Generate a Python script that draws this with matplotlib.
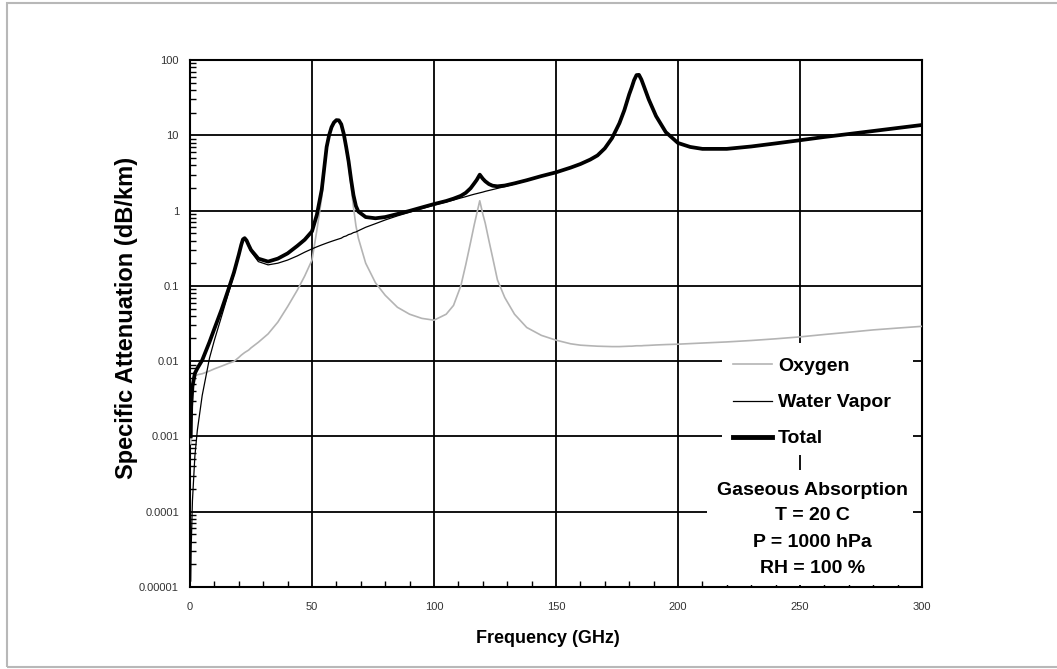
import numpy as np
import matplotlib
matplotlib.use("Agg")
import matplotlib.pyplot as plt
from matplotlib.patches import Rectangle
from matplotlib.ticker import FixedLocator, FixedFormatter, MultipleLocator, LogLocator, NullFormatter

plt.rcParams['font.family'] = ['Liberation Sans', 'DejaVu Sans']

# frequency grid (GHz)
freq = [0.3, 0.5, 1, 2, 3, 5, 8, 10, 13, 16, 18,
        20, 21, 21.7, 22.4, 23.2, 24, 25,
        28, 32, 36, 40, 44, 47, 50, 52, 54,
        56, 57, 58, 59, 60, 61, 62, 63, 64, 65, 66, 67, 68, 69,
        72, 76, 80, 85, 90, 95,
        100, 105, 108, 111, 113, 115, 116.5, 117.5, 118.75, 120, 121, 122.5, 124, 126, 129, 133, 138, 144, 150,
        156, 160, 164, 167, 170, 173, 176, 178, 180, 181, 182, 183, 184, 185, 186,
        188, 191, 195, 200, 205, 210, 220, 230, 240, 250,
        260, 270, 280, 290, 300]

oxygen = [0.0008, 0.002, 0.0045, 0.0063, 0.0066, 0.0068, 0.0074, 0.0079, 0.0086, 0.0094, 0.0099,
          0.0112, 0.012, 0.0125, 0.013, 0.0135, 0.014, 0.015,
          0.0178, 0.023, 0.033, 0.053, 0.088, 0.135, 0.22, 0.55, 1.5,
          6.6, 9.6, 12.4, 14.4, 15.5, 15.4, 13.6, 10.0, 6.5, 4.0, 2.1, 1.1, 0.63, 0.43,
          0.2, 0.11, 0.075, 0.052, 0.042, 0.037,
          0.035, 0.042, 0.055, 0.1, 0.19, 0.38, 0.65, 0.9, 1.35, 0.9, 0.68, 0.4, 0.24, 0.12, 0.07, 0.042, 0.028, 0.022, 0.019,
          0.017, 0.0163, 0.016, 0.0158, 0.0157, 0.0156, 0.0156, 0.0157, 0.0158, 0.0158, 0.0159, 0.016, 0.016, 0.016, 0.0161,
          0.0162, 0.0164, 0.0166, 0.0168, 0.0171, 0.0174, 0.018, 0.0188, 0.0198, 0.021,
          0.0226, 0.0242, 0.026, 0.0275, 0.029]

water_vapor = [1.2e-5, 3.5e-5, 0.00014, 0.00055, 0.0012, 0.0035, 0.011, 0.019, 0.04, 0.085, 0.14,
               0.25, 0.335, 0.40, 0.415, 0.385, 0.335, 0.285,
               0.21, 0.19, 0.2, 0.22, 0.25, 0.28, 0.31, 0.33, 0.35,
               0.37, 0.38, 0.39, 0.40, 0.41, 0.42, 0.43, 0.45, 0.46, 0.48, 0.49, 0.51, 0.52, 0.54,
               0.6, 0.67, 0.75, 0.85, 0.95, 1.06,
               1.18, 1.3, 1.38, 1.47, 1.53, 1.6, 1.65, 1.68, 1.72, 1.76, 1.8, 1.85, 1.9, 1.97, 2.08, 2.25, 2.5, 2.85, 3.2,
               3.7, 4.13, 4.73, 5.38, 6.68, 9.18, 14.5, 21.5, 35, 43, 54, 63, 63.5, 55, 45,
               30, 18, 11, 7.9, 7.0, 6.6, 6.6, 7.1, 7.8, 8.6,
               9.5, 10.4, 11.4, 12.5, 13.6]

total = [0.001, 0.0025, 0.0046, 0.0069, 0.008, 0.0103, 0.018, 0.027, 0.049, 0.095, 0.15,
         0.26, 0.35, 0.415, 0.43, 0.40, 0.35, 0.3,
         0.23, 0.21, 0.23, 0.27, 0.34, 0.41, 0.53, 0.88, 1.9,
         7.0, 10.0, 12.8, 14.8, 15.9, 15.8, 14.0, 10.5, 7.0, 4.5, 2.6, 1.6, 1.15, 0.97,
         0.82, 0.79, 0.82, 0.9, 0.99, 1.1,
         1.22, 1.34, 1.44, 1.57, 1.72, 1.98, 2.3, 2.55, 3.0, 2.65, 2.45, 2.25, 2.14, 2.1, 2.15, 2.3, 2.53, 2.87, 3.22,
         3.72, 4.15, 4.75, 5.4, 6.7, 9.2, 14.5, 21.5, 35, 43, 54, 63, 63.5, 55, 45,
         30, 18, 11, 7.9, 7.0, 6.6, 6.6, 7.1, 7.8, 8.6,
         9.5, 10.4, 11.4, 12.5, 13.7]

y_ticks = [1e-5, 1e-4, 1e-3, 1e-2, 1e-1, 1, 10, 100]
y_labels = ['0.00001', '0.0001', '0.001', '0.01', '0.1', '1', '10', '100']
x_ticks = [0, 50, 100, 150, 200, 250, 300]

fig = plt.figure(figsize=(10.57, 6.69), dpi=100)
ax = fig.add_axes([190/1057, (669-587)/669, 732/1057, 527/669])

ax.plot(freq, oxygen, color='#b4b4b4', lw=1.2, zorder=3, label='Oxygen')
ax.plot(freq, water_vapor, color='black', lw=0.9, zorder=3, label='Water Vapor')
ax.plot(freq, total, color='black', lw=2.7, zorder=4, label='Total')

ax.set_yscale('log')
ax.set_xlim(0, 300)
ax.set_ylim(1e-5, 100)

ax.yaxis.set_major_locator(FixedLocator(y_ticks))
ax.yaxis.set_major_formatter(FixedFormatter(y_labels))
ax.yaxis.set_minor_locator(LogLocator(base=10, subs=np.arange(2, 10), numticks=20))
ax.yaxis.set_minor_formatter(NullFormatter())
ax.set_xticks(x_ticks)
ax.xaxis.set_minor_locator(MultipleLocator(10))

ax.tick_params(which='major', length=0, labelsize=8, labelcolor='#333333')
ax.tick_params(axis='x', which='major', pad=11)
ax.tick_params(axis='y', which='major', pad=8)
ax.tick_params(which='minor', direction='in', length=4, width=1, color='black')

ax.grid(True, which='major', color='black', lw=1.3, zorder=1)
ax.set_axisbelow(True)
for s in ax.spines.values():
    s.set_linewidth(1.5)

ax.set_xlabel('Frequency (GHz)', fontsize=13, fontweight='bold')
ax.xaxis.set_label_coords(0.489, -0.082)
ax.set_ylabel('Specific Attenuation (dB/km)', fontsize=17, fontweight='bold')
ax.yaxis.set_label_coords(-0.071, 0.51)

# white boxes behind legend and notes
ax.add_patch(Rectangle((0.727, 0.250), 0.261, 0.213, transform=ax.transAxes,
                       facecolor='white', edgecolor='none', zorder=2))
ax.add_patch(Rectangle((0.706, 0.003), 0.282, 0.219, transform=ax.transAxes,
                       facecolor='white', edgecolor='none', zorder=2))

leg = ax.legend(loc='center left', bbox_to_anchor=(0.742, 0.350), frameon=False,
                borderpad=0, borderaxespad=0, handlelength=2.0, handletextpad=0.3,
                labelspacing=0.95, prop={'size': 14, 'weight': 'bold'})
leg.set_zorder(5)
leg.get_lines()[2].set_linewidth(3.5)

notes = ['Gaseous Absorption', 'T = 20 C', 'P = 1000 hPa', 'RH = 100 %']
note_y = [0.184, 0.135, 0.085, 0.036]
for t, yy in zip(notes, note_y):
    ax.text(0.850, yy, t, transform=ax.transAxes, ha='center', va='center',
            fontsize=14, fontweight='bold', zorder=5)

# light frame around the whole picture
fig.add_artist(Rectangle((7/1057, 2/669), 1.0, 664/669, transform=fig.transFigure,
                         facecolor='none', edgecolor='#b8b8b8', lw=1.5))

fig.savefig('out.png', dpi=100)
